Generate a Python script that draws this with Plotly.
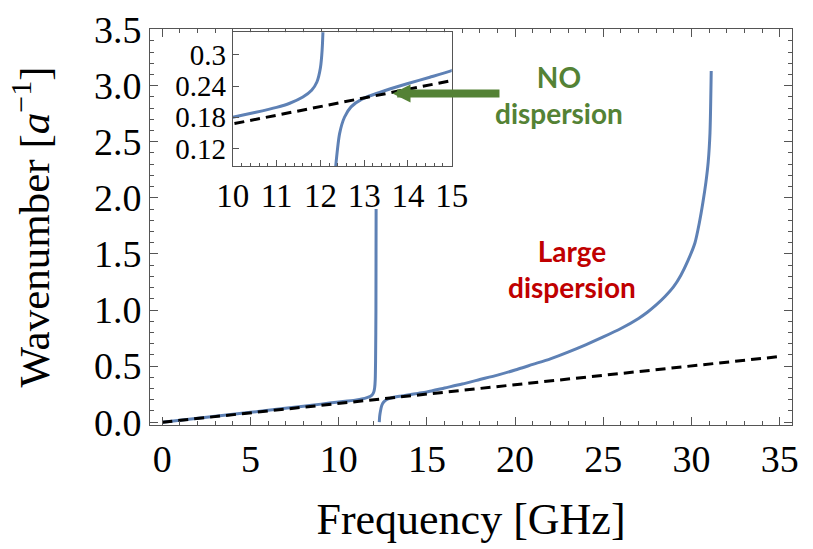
import plotly.graph_objects as go

# ---- data ----
branch1_freq = [0, 2, 4, 6, 8, 9, 10, 10.5, 11, 11.3, 11.6, 11.8, 11.92, 12.0, 12.04, 12.07, 12.09,
                12.11, 12.12]
branch1_k = [0, 0.035, 0.07, 0.106, 0.143, 0.161, 0.18, 0.189, 0.199, 0.207, 0.219, 0.232, 0.248, 0.275,
             0.31, 0.38, 0.55, 1.0, 1.9]

branch2_freq = [12.30, 12.32, 12.36, 12.44, 12.55, 12.7, 12.95, 13.5, 14.0, 14.5, 15, 16, 17, 18, 19, 20,
                21, 22, 23, 24, 25, 26, 27, 27.5, 28, 28.5, 29.0, 29.4, 29.8, 30.2, 30.45, 30.65, 30.82,
                30.95, 31.05, 31.12]
branch2_k = [0.0, 0.05, 0.094, 0.149, 0.18, 0.20, 0.215, 0.232, 0.245, 0.257, 0.27, 0.305, 0.34, 0.38,
             0.42, 0.465, 0.515, 0.565, 0.625, 0.69, 0.76, 0.835, 0.925, 0.98, 1.045, 1.12, 1.21, 1.31,
             1.44, 1.6, 1.78, 1.96, 2.14, 2.32, 2.58, 3.13]

light_freq = [0, 35]
light_k = [0, 0.585]

main_xticks = [0, 5, 10, 15, 20, 25, 30, 35]
main_yticks = [0.0, 0.5, 1.0, 1.5, 2.0, 2.5, 3.0, 3.5]
main_yticktext = ["0.0", "0.5", "1.0", "1.5", "2.0", "2.5", "3.0", "3.5"]
inset_xticks = [10, 11, 12, 13, 14, 15]
inset_yticks = [0.12, 0.18, 0.24, 0.3]
inset_yticktext = ["0.12", "0.18", "0.24", "0.3"]

BLUE = "#5E81B5"
SERIF = "Liberation Serif"
FRAME = "#555555"

fig = go.Figure()

for xa, ya in (("x", "y"), ("x2", "y2")):
    fig.add_trace(go.Scatter(x=branch1_freq, y=branch1_k, mode="lines", xaxis=xa, yaxis=ya,
                             line=dict(color=BLUE, width=3, shape="spline", smoothing=0.7),
                             showlegend=False))
    fig.add_trace(go.Scatter(x=branch2_freq, y=branch2_k, mode="lines", xaxis=xa, yaxis=ya,
                             line=dict(color=BLUE, width=3, shape="spline", smoothing=0.7),
                             showlegend=False))
    fig.add_trace(go.Scatter(x=light_freq, y=light_k, mode="lines", xaxis=xa, yaxis=ya,
                             line=dict(color="black", width=3, dash="10px,6px"), showlegend=False))

common = dict(showline=True, linecolor=FRAME, linewidth=1, mirror="allticks", ticks="inside",
              tickcolor=FRAME, showgrid=False, zeroline=False, automargin=False,
              tickfont=dict(family=SERIF, size=38, color="black"))

fig.update_layout(
    width=813, height=549,
    margin=dict(l=150, r=21, t=29, b=124),
    paper_bgcolor="white", plot_bgcolor="white",
    xaxis=dict(range=[-0.7, 35.7], tickvals=main_xticks, ticklen=8,
               minor=dict(dtick=1, ticklen=4, ticks="inside", tickcolor=FRAME),
               title=dict(text="Frequency [GHz]", font=dict(family=SERIF, size=44, color="black"),
                          standoff=24),
               **common),
    yaxis=dict(range=[-0.025, 3.505], tickvals=main_yticks, ticktext=main_yticktext, ticklen=8,
               minor=dict(dtick=0.1, ticklen=4, ticks="inside", tickcolor=FRAME),
               title=dict(text="Wavenumber [<i>a</i><sup>−1</sup>]",
                          font=dict(family=SERIF, size=43, color="black"), standoff=30),
               **common),
    xaxis2=dict(domain=[0.129, 0.470], anchor="y2", range=[10, 15], tickvals=inset_xticks,
                showline=True, linecolor=FRAME, mirror=True, ticks="inside", ticklen=6, tickcolor=FRAME,
                minor=dict(dtick=0.2, ticklen=3, ticks="inside", tickcolor=FRAME),
                showgrid=False, zeroline=False, automargin=False,
                tickfont=dict(family=SERIF, size=33, color="black")),
    yaxis2=dict(domain=[0.654, 0.992], anchor="x2", range=[0.086, 0.344], tickvals=inset_yticks,
                ticktext=inset_yticktext,
                showline=True, linecolor=FRAME, mirror=True, ticks="inside", ticklen=6, tickcolor=FRAME,
                showgrid=False, zeroline=False, automargin=False,
                tickfont=dict(family=SERIF, size=29, color="black")),
)

GREEN = "#548235"
RED = "#C00000"
SANS = "Lato"

fig.add_annotation(x=22.5, y=2.92, xref="x", yref="y", text="<b>NO<br>dispersion</b>",
                   showarrow=False, font=dict(family=SANS, size=28, color=GREEN), align="center")
fig.add_annotation(x=23.2, y=1.366, xref="x", yref="y", text="<b>Large<br>dispersion</b>",
                   showarrow=False, font=dict(family=SANS, size=28, color=RED), align="center")
# green arrow
fig.add_annotation(x=13.05, y=2.93, xref="x", yref="y", ax=19.2, ay=2.93, axref="x", ayref="y",
                   text="", showarrow=True, arrowhead=2, arrowsize=0.45, arrowwidth=8,
                   arrowcolor=GREEN, standoff=0, startstandoff=0)

fig.write_html("out.html")
